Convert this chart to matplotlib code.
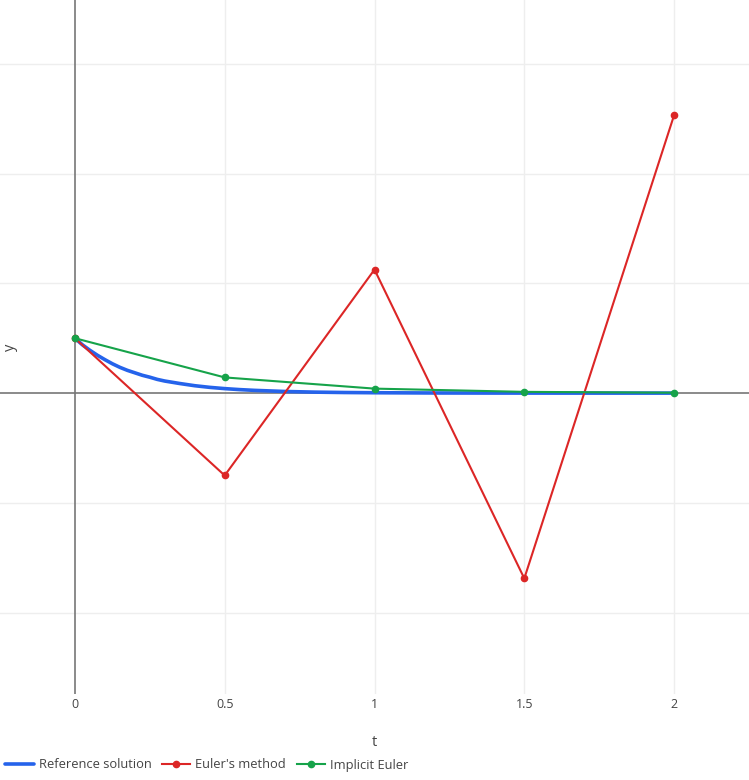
import matplotlib
matplotlib.use("Agg")
import matplotlib.pyplot as plt

plt.rcParams["font.family"] = ["Open Sans", "DejaVu Sans"]

# Step results, h = 0.5
t_steps = [0.0, 0.5, 1.0, 1.5, 2.0]
y_euler = [1.0, -1.5, 2.25, -3.375, 5.0625]
y_implicit = [1.0, 0.286, 0.082, 0.023, 0.007]

# Reference solution
t_ref = [0.0, 0.025, 0.05, 0.075, 0.1, 0.125, 0.15, 0.175, 0.2, 0.225, 0.25,
         0.275, 0.3, 0.35, 0.4, 0.45, 0.5, 0.55, 0.6, 0.7, 0.8, 0.9, 1.0,
         1.2, 1.4, 1.6, 1.8, 2.0]
y_ref = [1.0, 0.88, 0.78, 0.69, 0.61, 0.535, 0.47, 0.415, 0.37, 0.325, 0.29,
         0.25, 0.22, 0.175, 0.135, 0.105, 0.082, 0.064, 0.05, 0.03, 0.018,
         0.011, 0.007, 0.0025, 0.0009, 0.0003, 0.0001, 0.0]

x_ticks = [0, 0.5, 1, 1.5, 2]
x_tick_labels = ["0", "0.5", "1", "1.5", "2"]
y_grid = [-4, -2, 2, 4, 6]

BLUE = "#2563eb"
RED = "#dc2626"
GREEN = "#16a34a"
TEXT = "#444444"

fig = plt.figure(figsize=(7.49, 7.80), dpi=100)
ax = fig.add_axes([0, 86 / 780, 1, 694 / 780])

ax.set_xlim(-0.25, 2.25)
ax.set_ylim(-5.48, 7.16)

# Grid and zero lines
for xv in x_ticks[1:]:
    ax.axvline(xv, color="#eeeeee", lw=1, zorder=0)
for yv in y_grid:
    ax.axhline(yv, color="#eeeeee", lw=1, zorder=0)
ax.axvline(0, color="#777777", lw=1.2, zorder=1)
ax.axhline(0, color="#777777", lw=1.2, zorder=1)

ax.plot(t_ref, y_ref, color=BLUE, lw=2.6, label="Reference solution",
        zorder=3, solid_capstyle="round", solid_joinstyle="round")
ax.plot(t_steps, y_euler, color=RED, lw=1.5, marker="o", markersize=4.5,
        label="Euler's method", zorder=4)
ax.plot(t_steps, y_implicit, color=GREEN, lw=1.5, marker="o", markersize=4.5,
        label="Implicit Euler", zorder=5)

for s in ax.spines.values():
    s.set_visible(False)
ax.set_xticks(x_ticks)
ax.set_xticklabels(x_tick_labels)
ax.set_yticks([])
ax.tick_params(axis="x", length=0, pad=3, labelsize=9, labelcolor=TEXT)

fig.text(374 / 749, 1 - 742 / 780, "t", ha="center", va="center",
         fontsize=10.5, color=TEXT)
fig.text(10 / 749, 1 - 347 / 780, "y", ha="center", va="center",
         rotation=90, fontsize=10.5, color=TEXT)

fig.legend(loc="center left", bbox_to_anchor=(0.0, 1 - 765 / 780),
           ncol=3, frameon=False, fontsize=9.3, handlelength=2.2,
           handletextpad=0.4, columnspacing=0.8, borderaxespad=0,
           labelcolor=TEXT)

fig.savefig("out.png", dpi=100)
plt.close(fig)
